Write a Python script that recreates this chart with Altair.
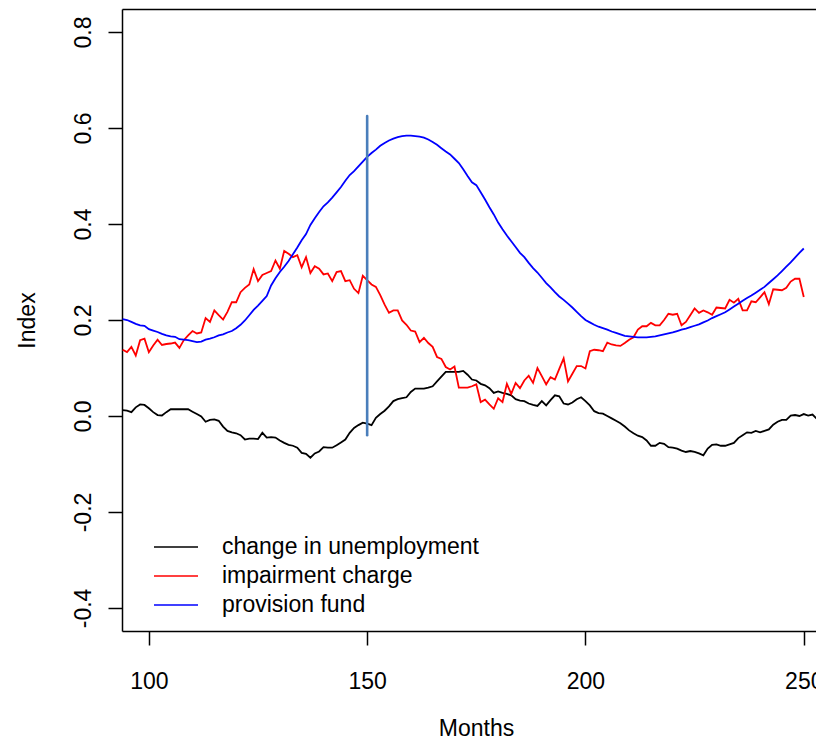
import altair as alt
import pandas as pd

# ---------------- data ----------------
series_names = ["change in unemployment", "impairment charge", "provision fund"]
series_colors = ["#000000", "#ff0000", "#0000ff"]

unemployment_start = 94
unemployment = [
    0.012, 0.011, 0.008, 0.018, 0.024, 0.023, 0.016, 0.008, 0.002, 0.001,     # 94-103
    0.008, 0.014, 0.014, 0.014, 0.014, 0.014, 0.009, 0.004, -0.001, -0.012,   # 104-113
    -0.008, -0.007, -0.010, -0.022, -0.031, -0.034, -0.036, -0.040, -0.049, -0.047,  # 114-123
    -0.047, -0.048, -0.035, -0.045, -0.044, -0.045, -0.051, -0.056, -0.060, -0.062,  # 124-133
    -0.066, -0.077, -0.079, -0.087, -0.078, -0.074, -0.065, -0.066, -0.066, -0.061,  # 134-143
    -0.055, -0.049, -0.035, -0.025, -0.019, -0.014, -0.016, -0.019, -0.004, 0.004,   # 144-153
    0.011, 0.020, 0.031, 0.035, 0.037, 0.039, 0.050, 0.057, 0.057, 0.057,     # 154-163
    0.059, 0.062, 0.072, 0.082, 0.092, 0.092, 0.092, 0.092, 0.094, 0.086,     # 164-173
    0.076, 0.074, 0.067, 0.064, 0.058, 0.048, 0.051, 0.048, 0.046, 0.043,     # 174-183
    0.035, 0.032, 0.031, 0.026, 0.023, 0.021, 0.031, 0.022, 0.033, 0.043,     # 184-193
    0.041, 0.026, 0.024, 0.028, 0.035, 0.039, 0.031, 0.022, 0.010, 0.006,     # 194-203
    0.005, 0.000, -0.005, -0.010, -0.015, -0.022, -0.030, -0.036, -0.041, -0.044,    # 204-213
    -0.051, -0.062, -0.062, -0.056, -0.058, -0.065, -0.066, -0.068, -0.072, -0.075,  # 214-223
    -0.073, -0.075, -0.078, -0.082, -0.068, -0.060, -0.059, -0.062, -0.062, -0.059,  # 224-233
    -0.056, -0.046, -0.040, -0.034, -0.035, -0.031, -0.034, -0.031, -0.028, -0.018,  # 234-243
    -0.012, -0.008, -0.008, 0.001, 0.002, 0.000, 0.004, 0.001, 0.003, -0.006,        # 244-253
    -0.008, -0.004,                                                                  # 254-255
]

impairment_start = 94
impairment = [
    0.138, 0.133, 0.144, 0.126, 0.158, 0.161, 0.133, 0.147, 0.159, 0.148,   # 94-103
    0.150, 0.151, 0.153, 0.142, 0.158, 0.168, 0.177, 0.172, 0.174, 0.204,   # 104-113
    0.196, 0.220, 0.210, 0.201, 0.217, 0.237, 0.237, 0.258, 0.267, 0.274,   # 114-123
    0.306, 0.281, 0.294, 0.298, 0.302, 0.324, 0.307, 0.344, 0.338, 0.331,   # 124-133
    0.335, 0.310, 0.331, 0.298, 0.312, 0.307, 0.295, 0.297, 0.281, 0.300,   # 134-143
    0.302, 0.281, 0.283, 0.265, 0.256, 0.292, 0.283, 0.274, 0.269, 0.252,   # 144-153
    0.232, 0.215, 0.220, 0.220, 0.199, 0.190, 0.178, 0.176, 0.154, 0.163,   # 154-163
    0.152, 0.144, 0.123, 0.119, 0.102, 0.097, 0.103, 0.059, 0.059, 0.059,   # 164-173
    0.062, 0.066, 0.029, 0.034, 0.024, 0.015, 0.037, 0.029, 0.067, 0.046,   # 174-183
    0.069, 0.058, 0.074, 0.084, 0.069, 0.100, 0.083, 0.066, 0.081, 0.076,   # 184-193
    0.098, 0.120, 0.072, 0.088, 0.104, 0.104, 0.099, 0.135, 0.138, 0.137,   # 194-203
    0.135, 0.153, 0.149, 0.147, 0.146, 0.152, 0.159, 0.164, 0.180, 0.187,   # 204-213
    0.187, 0.194, 0.189, 0.189, 0.200, 0.213, 0.211, 0.213, 0.189, 0.196,   # 214-223
    0.210, 0.224, 0.215, 0.220, 0.216, 0.211, 0.226, 0.225, 0.224, 0.242,   # 224-233
    0.236, 0.244, 0.220, 0.220, 0.239, 0.237, 0.247, 0.258, 0.233, 0.264,   # 234-243
    0.263, 0.262, 0.267, 0.280, 0.286, 0.286, 0.248,                        # 244-250
]

provision_start = 94
provision = [
    0.202, 0.200, 0.196, 0.192, 0.189, 0.188, 0.181, 0.178, 0.175, 0.171,   # 94-103
    0.168, 0.166, 0.165, 0.160, 0.159, 0.158, 0.156, 0.154, 0.155, 0.159,   # 104-113
    0.161, 0.164, 0.168, 0.170, 0.174, 0.177, 0.183, 0.190, 0.199, 0.210,   # 114-123
    0.221, 0.230, 0.240, 0.250, 0.272, 0.287, 0.300, 0.311, 0.323, 0.337,   # 124-133
    0.351, 0.366, 0.379, 0.398, 0.412, 0.425, 0.437, 0.445, 0.455, 0.466,   # 134-143
    0.477, 0.490, 0.502, 0.510, 0.520, 0.530, 0.540, 0.548, 0.555, 0.563,   # 144-153
    0.569, 0.574, 0.578, 0.581, 0.583, 0.584, 0.584, 0.583, 0.582, 0.580,   # 154-163
    0.576, 0.571, 0.565, 0.558, 0.551, 0.545, 0.536, 0.527, 0.514, 0.500,   # 164-173
    0.487, 0.481, 0.466, 0.451, 0.435, 0.420, 0.403, 0.389, 0.376, 0.364,   # 174-183
    0.352, 0.340, 0.331, 0.319, 0.308, 0.299, 0.288, 0.277, 0.268, 0.258,   # 184-193
    0.249, 0.242, 0.234, 0.226, 0.217, 0.208, 0.200, 0.195, 0.190, 0.186,   # 194-203
    0.183, 0.180, 0.176, 0.173, 0.170, 0.167, 0.166, 0.165, 0.164, 0.164,   # 204-213
    0.164, 0.165, 0.166, 0.168, 0.170, 0.172, 0.174, 0.177, 0.180, 0.182,   # 214-223
    0.185, 0.188, 0.191, 0.195, 0.199, 0.204, 0.208, 0.212, 0.216, 0.222,   # 224-233
    0.228, 0.234, 0.240, 0.246, 0.251, 0.257, 0.263, 0.269, 0.277, 0.285,   # 234-243
    0.293, 0.302, 0.311, 0.320, 0.330, 0.340, 0.349,                        # 244-250
]

# vertical marker line
vline_month = [150]
vline_low = [-0.04]
vline_high = [0.625]

x_ticks = [100, 150, 200, 250]
y_ticks = [-0.4, -0.2, 0.0, 0.2, 0.4, 0.6, 0.8]
x_domain = [93.85, 252.8]
y_domain = [-0.448, 0.848]

# ---------------- build tables ----------------
rows = []
for name, start, vals in [
    (series_names[0], unemployment_start, unemployment),
    (series_names[1], impairment_start, impairment),
    (series_names[2], provision_start, provision),
]:
    for i, v in enumerate(vals):
        rows.append({"month": start + i, "value": v, "series": name})
df = pd.DataFrame(rows)
vdf = pd.DataFrame({"month": vline_month, "low": vline_low, "high": vline_high})

FONT = "Liberation Sans"
FS = 23

x_scale = alt.Scale(domain=x_domain, nice=False, zero=False)
y_scale = alt.Scale(domain=y_domain, nice=False, zero=False)

y_axis = alt.Axis(
    values=y_ticks,
    labelExpr="(datum.value < 0 ? '-' : '') + format(abs(datum.value), '.1f')",
    labelAngle=270, labelAlign="center", labelBaseline="alphabetic",
    labelPadding=18, tickSize=14, tickWidth=1.5, tickColor="black",
    domainColor="black", domainWidth=1.5, grid=False,
    labelFont=FONT, labelFontSize=FS, labelColor="black",
    title="Index", titleAngle=270, titleAlign="center", titleBaseline="alphabetic",
    titleX=-88, titleFont=FONT, titleFontSize=FS, titleFontWeight="normal", titleColor="black",
    labelOverlap=False,
)
x_axis = alt.Axis(
    values=x_ticks, format="d", labelFlush=False, labelOverlap=False,
    labelPadding=43, labelBaseline="alphabetic",
    tickSize=14, tickWidth=1.5, tickColor="black",
    domainColor="black", domainWidth=1.5, grid=False,
    labelFont=FONT, labelFontSize=FS, labelColor="black",
    title="Months", titleX=354, titleY=104, titleAlign="center", titleBaseline="alphabetic",
    titleFont=FONT, titleFontSize=FS, titleFontWeight="normal", titleColor="black",
)
top_axis = alt.Axis(
    orient="top", labels=False, ticks=False, title=None,
    domainColor="black", domainWidth=1.5, grid=False,
)

legend = alt.Legend(
    orient="none", legendX=31, legendY=526.5, title=None,
    symbolType="stroke", symbolSize=1936, symbolStrokeWidth=1.7,
    labelFontSize=FS, labelFont=FONT, labelColor="black", labelOffset=23,
    labelLimit=500, clipHeight=23, rowPadding=5, padding=0,
)

lines = alt.Chart(df).mark_line(strokeWidth=1.8, clip=True).encode(
    x=alt.X("month:Q", scale=x_scale, axis=x_axis),
    y=alt.Y("value:Q", scale=y_scale, axis=y_axis),
    color=alt.Color("series:N", scale=alt.Scale(domain=series_names, range=series_colors), legend=legend),
    order="month:Q",
)

vrule = alt.Chart(vdf).mark_rule(color="#4a7ebb", strokeWidth=2.6, strokeCap="round").encode(
    x=alt.X("month:Q", scale=x_scale, axis=top_axis),
    y=alt.Y("low:Q", scale=y_scale, axis=y_axis),
    y2="high:Q",
)

chart = (
    alt.layer(lines, vrule)
    .resolve_axis(x="independent")
    .properties(
        width=694, height=622,
        autosize=alt.AutoSizeParams(type="none"),
        padding={"left": 114, "top": 1, "right": 0, "bottom": 108},
        background="white",
    )
    .configure_view(stroke=None)
)

chart.save("out.html", embed_options={"renderer": "svg", "actions": False})
